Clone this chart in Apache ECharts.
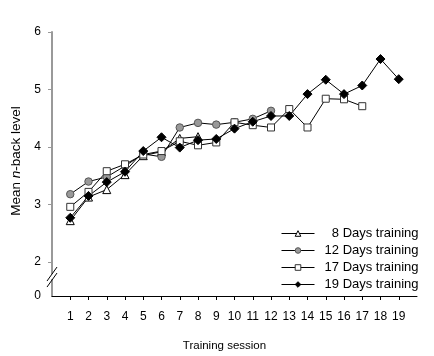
<!DOCTYPE html>
<html><head><meta charset="utf-8">
<script src="https://cdn.jsdelivr.net/npm/echarts@6/dist/echarts.min.js"></script>
<style>html,body{margin:0;padding:0;background:#fff}#c{width:434px;height:356px}</style>
</head><body><div id="c"></div>
<script>
const sessions = [1,2,3,4,5,6,7,8,9,10,11,12,13,14,15,16,17,18,19];
const seriesNames = ['8 Days training','12 Days training','17 Days training','19 Days training'];
const days8  = [2.72,3.13,3.26,3.52,3.85,3.92,4.15,4.18];
const days12 = [3.18,3.40,3.48,3.67,3.88,3.83,4.34,4.42,4.39,4.43,4.49,4.63];
const days17 = [2.96,3.22,3.58,3.70,3.87,3.93,4.10,4.03,4.08,4.43,4.38,4.34,4.66,4.34,4.84,4.83,4.71];
const days19 = [2.77,3.15,3.39,3.57,3.93,4.17,3.99,4.12,4.14,4.32,4.44,4.54,4.54,4.92,5.17,4.92,5.07,5.53,5.18];
const yTickValues = [2,3,4,5,6];
const yZeroValue = 1.41;            // axis position where the "0" label sits (broken axis)
const yLabelValues = [yZeroValue,2,3,4,5,6];
const yLabelTexts = ['0','2','3','4','5','6'];

function pairs(arr){ return arr.map((v,i)=>[sessions[i], v]); }

const font = '"Liberation Sans", Arial, sans-serif';
const chart = echarts.init(document.getElementById('c'), null, {renderer:'canvas'});
const option = {
  animation:false,
  textStyle:{fontFamily:font, color:'#000'},
  grid:{left:52,right:17,top:32,bottom:60, containLabel:false, outerBoundsMode:'none'},
  xAxis:{
    type:'value', min:0, max:20,
    axisLine:{onZero:false, lineStyle:{color:'#000', width:1}},
    axisTick:{customValues:sessions, length:4, lineStyle:{color:'#000'}},
    axisLabel:{customValues:sessions, margin:15, fontSize:12, color:'#000', fontFamily:font},
    splitLine:{show:false},
    name:'Training session', nameLocation:'middle', nameGap:44,
    nameTextStyle:{fontSize:11.5, color:'#000', fontFamily:font, padding:[0,20,0,0]}
  },
  yAxis:{
    type:'value', min:yZeroValue, max:6,
    axisLine:{show:true, lineStyle:{color:'#999', width:2}},
    axisTick:{show:true, customValues:yTickValues, length:4, lineStyle:{color:'#999'}},
    axisLabel:{customValues:yLabelValues, margin:11, fontSize:12, color:'#000', fontFamily:font,
      formatter:function(v){ const i = yLabelValues.findIndex(x=>Math.abs(x-v)<1e-6); return i>=0?yLabelTexts[i]:''; }},
    splitLine:{show:false},
    name:'{r|Mean }{i|n}{r|-back level}', nameLocation:'middle', nameGap:27,
    nameTextStyle:{fontSize:13.5, color:'#000', fontFamily:font, padding:[0,0,0,6],
      rich:{r:{fontSize:13.5,fontFamily:font,color:'#000'}, i:{fontSize:13.5,fontStyle:'italic',fontFamily:font,color:'#000'}}}
  },
  legend:{
    orient:'vertical', left:276, top:222, itemWidth:33, itemHeight:7, itemGap:4,
    data:seriesNames,
    lineStyle:{width:1},
    itemStyle:{borderWidth:1},
    formatter:function(n){ return '{a|'+n+'}'; },
    textStyle:{fontSize:13, color:'#000', fontFamily:font,
      rich:{a:{width:99, align:'right', fontSize:13, lineHeight:14, fontFamily:font, color:'#000'}}}
  },
  series:[
    {name:seriesNames[0], type:'line', data:pairs(days8), symbol:'triangle', symbolSize:8,
     lineStyle:{color:'#000',width:1}, itemStyle:{color:'#fff', borderColor:'#000', borderWidth:1}},
    {name:seriesNames[1], type:'line', data:pairs(days12), symbol:'circle', symbolSize:7.5,
     lineStyle:{color:'#000',width:1}, itemStyle:{color:'#999', borderColor:'#555', borderWidth:1}},
    {name:seriesNames[2], type:'line', data:pairs(days17), symbol:'rect', symbolSize:7,
     lineStyle:{color:'#000',width:1}, itemStyle:{color:'#fff', borderColor:'#333', borderWidth:1}},
    {name:seriesNames[3], type:'line', data:pairs(days19), symbol:'diamond', symbolSize:9,
     lineStyle:{color:'#000',width:1}, itemStyle:{color:'#000', borderColor:'#000', borderWidth:1}}
  ]
};
chart.setOption(option);
// axis-break marks on the y axis between 0 and 2
const bp = chart.convertToPixel({gridIndex:0}, [0, (yZeroValue+2)/2]);
const px = bp[0], cy = bp[1];
chart.setOption({graphic:[
  {type:'rect', shape:{x:px-2, y:cy-5, width:4, height:5}, style:{fill:'#fff'}, z:100},
  {type:'line', shape:{x1:px-5, y1:cy+2, x2:px+5, y2:cy-12}, style:{stroke:'#000', lineWidth:1}, z:101},
  {type:'line', shape:{x1:px-5, y1:cy+8, x2:px+5, y2:cy-6}, style:{stroke:'#000', lineWidth:1}, z:101}
]});
</script>
</body></html>
